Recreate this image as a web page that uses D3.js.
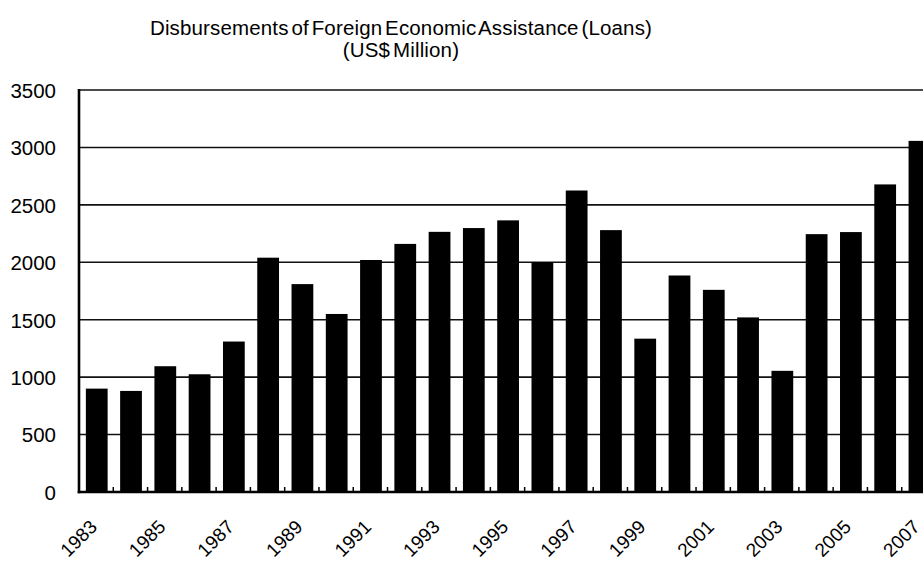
<!DOCTYPE html>
<html>
<head>
<meta charset="utf-8">
<script src="https://cdn.jsdelivr.net/npm/d3@7"></script>
<style>
  html, body { margin: 0; padding: 0; background: #fff; overflow: hidden; }
  svg { display: block; }
  text { font-family: Arial, "Liberation Sans", sans-serif; fill: #000; }
</style>
</head>
<body>
<svg id="chart" width="923" height="561"></svg>
<script>
// Disbursements of foreign economic assistance (loans), US$ million, by year
const years = [1983, 1984, 1985, 1986, 1987, 1988, 1989, 1990, 1991, 1992,
               1993, 1994, 1995, 1996, 1997, 1998, 1999, 2000, 2001, 2002,
               2003, 2004, 2005, 2006, 2007];
const loans = [900, 880, 1095, 1025, 1310, 2040, 1810, 1550, 2020, 2160,
               2265, 2298, 2365, 2002, 2625, 2280, 1335, 1885, 1760, 1520,
               1055, 2245, 2263, 2678, 3057];
const yTicks = [0, 500, 1000, 1500, 2000, 2500, 3000, 3500];
const xLabelYears = [1983, 1985, 1987, 1989, 1991, 1993, 1995, 1997, 1999,
                     2001, 2003, 2005, 2007];
const titleLines = ["Disbursements of Foreign Economic Assistance (Loans)", "(US$ Million)"];

const svg = d3.select("#chart");

// plot frame (the category axis runs slightly past the right edge of the page)
const plotL = 79, plotR = 936, plotT = 90, plotB = 492;

const x = d3.scaleBand().domain(years).range([plotL, plotR]).padding(0);
const y = d3.scaleLinear().domain([0, 3500]).range([plotB, plotT]);

// horizontal gridlines
svg.append("g")
  .selectAll("line")
  .data(yTicks.filter(d => d > 0))
  .join("line")
  .attr("x1", plotL).attr("x2", plotR)
  .attr("y1", d => y(d)).attr("y2", d => y(d))
  .attr("stroke", "#111").attr("stroke-width", 1.6);

// bars
const barW = x.bandwidth() * 0.635;
svg.append("g")
  .selectAll("rect")
  .data(years.map((yr, i) => ({ yr, v: loans[i] })))
  .join("rect")
  .attr("x", d => x(d.yr) + (x.bandwidth() - barW) / 2 + 0.6)
  .attr("width", barW)
  .attr("y", d => y(d.v))
  .attr("height", d => y(0) - y(d.v))
  .attr("fill", "#000");

// y axis: labels only, left of the axis line
const yAxis = d3.axisLeft(y).tickValues(yTicks).tickSize(0).tickPadding(23)
  .tickFormat(d3.format("d"));
const gy = svg.append("g").attr("transform", `translate(${plotL},0)`).call(yAxis);
gy.select(".domain").remove();
gy.selectAll("text")
  .style("font-size", "20.5px")
  .style("font-family", "Arial, 'Liberation Sans', sans-serif")
  .attr("dy", "0.36em");

// x axis: inward tick marks at category boundaries
const xAxis = d3.axisBottom(x).tickSize(0).tickFormat("");
const gx = svg.append("g").attr("transform", `translate(0,${plotB})`).call(xAxis);
gx.select(".domain").remove();
gx.selectAll(".tick").remove();
gx.selectAll("line.bound")
  .data(years.slice(1))
  .join("line")
  .attr("class", "bound")
  .attr("x1", d => x(d)).attr("x2", d => x(d))
  .attr("y1", 0).attr("y2", -5)
  .attr("stroke", "#000").attr("stroke-width", 1.5);

// rotated year labels
gx.selectAll("text.yr")
  .data(xLabelYears)
  .join("text")
  .attr("class", "yr")
  .attr("text-anchor", "end")
  .attr("transform", d => `translate(${x(d) + x.bandwidth() / 2 + 2},${36}) rotate(-45)`)
  .style("font-size", "19px")
  .text(d => d);

// axis lines
svg.append("line")
  .attr("x1", plotL).attr("x2", plotL).attr("y1", plotT - 1).attr("y2", plotB + 1.3)
  .attr("stroke", "#000").attr("stroke-width", 2.6);
svg.append("line")
  .attr("x1", plotL - 1.3).attr("x2", plotR).attr("y1", plotB).attr("y2", plotB)
  .attr("stroke", "#000").attr("stroke-width", 2.6);

// title
svg.append("g")
  .selectAll("text")
  .data(titleLines)
  .join("text")
  .attr("x", 401)
  .attr("y", (d, i) => 35 + i * 22)
  .attr("text-anchor", "middle")
  .style("font-size", "20.5px")
  .style("letter-spacing", "0.15px")
  .style("word-spacing", "-3px")
  .text(d => d);
</script>
</body>
</html>
